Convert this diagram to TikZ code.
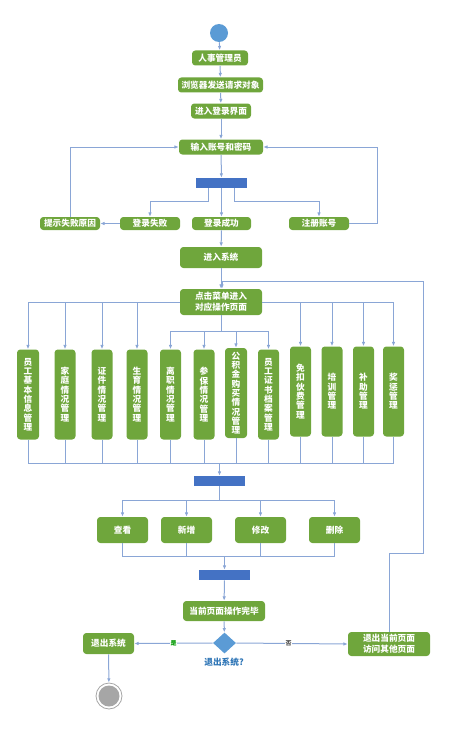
\documentclass[tikz,border=0pt]{standalone}
\usepackage{fontspec}
\setmainfont{Noto Sans CJK SC}
\usetikzlibrary{arrows.meta,calc,shapes.geometric}
\definecolor{boxgreen}{HTML}{6FA63C}
\definecolor{barblue}{HTML}{4472C4}
\definecolor{linec}{HTML}{8AA6D6}
\definecolor{startblue}{HTML}{5B9BD5}
\definecolor{endgray}{HTML}{A6A6A6}
\definecolor{qblue}{HTML}{2E75B6}
\begin{document}
\begin{tikzpicture}[x=0.75pt,y=-0.75pt,
  wh/.style 2 args={minimum width=#1*0.75pt, minimum height=#2*0.75pt},
  gbox/.style={fill=boxgreen, rounded corners=2.5pt, text=white, inner sep=0pt, align=center,
    font=\bfseries\fontsize{6.5}{8}\selectfont},
  vbox/.style={gbox, wh={21}{90}, font=\bfseries\fontsize{6.5}{7}\selectfont},
  bar/.style={fill=barblue, inner sep=0pt, wh={51}{10}},
  conn/.style={draw=linec, line width=0.75pt, -{Latex[length=3.2pt,width=2.6pt]}},
  lin/.style={draw=linec, line width=0.75pt},
  lbl/.style={font=\bfseries\fontsize{4.5}{5}\selectfont, inner sep=0.3pt, fill=white}]
\useasboundingbox (0,0) rectangle (457,735);

% top chain
\node[circle, fill=startblue, inner sep=0pt, minimum size=18*0.75pt] (start) at (219,33) {};
\node[gbox, wh={56}{15}] (n1) at (220,58) {人事管理员};
\node[gbox, wh={85}{15}] (n2) at (220.5,85) {浏览器发送请求对象};
\node[gbox, wh={60}{15}] (n3) at (221,111) {进入登录界面};
\node[gbox, wh={84}{15}] (n4) at (221,147) {输入账号和密码};
\node[bar] (bar1) at (221.5,183) {};
\node[gbox, wh={60}{13}] (f1) at (70,223.5) {提示失败原因};
\node[gbox, wh={60}{13}] (f2) at (150,223.5) {登录失败};
\node[gbox, wh={59}{13}] (f3) at (221.5,223.5) {登录成功};
\node[gbox, wh={60}{13}] (f4) at (319,223.5) {注册账号};
\node[gbox, wh={82}{21}] (sys) at (221,257.5) {进入系统};
\node[gbox, wh={82}{26}] (menu) at (221,302) {点击菜单进入\\对应操作页面};

\draw[conn] (start) -- (n1);
\draw[conn] (n1) -- (n2);
\draw[conn] (n2) -- (n3);
\draw[conn] (n3) -- (n4);
\draw[conn] (n4) -- (bar1);
\draw[conn] ($(bar1.south)+(-13.5,0)$) -- ++(0,13) -| (f2.north);
\draw[conn] (bar1.south) -- (f3.north);
\draw[conn] ($(bar1.south)+(12.5,0)$) -- ++(0,13) -| (f4.north);
\draw[conn] (f2.west) -- (f1.east);
\draw[conn] (f1.north) |- (n4.west);
\draw[conn] (f4.east) -- ++(28,0) |- (n4.east);
\draw[conn] (f3) -- (sys);
\draw[conn] (sys) -- (menu);

% vertical boxes
\node[vbox, wh={22}{90}] (v1) at (28,394.5) {员\\工\\基\\本\\信\\息\\管\\理};
\node[vbox] (v2) at (65,394.5) {家\\庭\\情\\况\\管\\理};
\node[vbox] (v3) at (102,394.5) {证\\件\\情\\况\\管\\理};
\node[vbox] (v4) at (137,394.5) {生\\育\\情\\况\\管\\理};
\node[vbox] (v5) at (170.5,394.5) {离\\职\\情\\况\\管\\理};
\node[vbox] (v6) at (204,394.5) {参\\保\\情\\况\\管\\理};
\node[vbox, wh={22}{90}] (v7) at (236,393) {公\\积\\金\\购\\买\\情\\况\\管\\理};
\node[vbox] (v8) at (268.5,394.5) {员\\工\\证\\书\\档\\案\\管\\理};
\node[vbox] (v9) at (300.5,391.5) {免\\扣\\伙\\费\\管\\理};
\node[vbox] (v10) at (332,391.5) {培\\训\\管\\理};
\node[vbox] (v11) at (363.5,391.5) {补\\助\\管\\理};
\node[vbox] (v12) at (393.5,391.5) {奖\\惩\\管\\理};

\foreach \k in {1,2,3,4} \draw[conn] (menu.west) -| (v\k.north);
\foreach \k in {9,10,11,12} \draw[conn] (menu.east) -| (v\k.north);
\foreach \k in {5,6,7,8} \draw[conn] (menu.south) -- ++(0,16) -| (v\k.north);

\node[bar] (bar2) at (219.5,481) {};
\coordinate (m1) at (219.5,463);
\foreach \k in {1,...,12} \draw[lin] (v\k.south) |- (m1);
\draw[conn] (m1) -- (bar2.north);

% operations
\node[gbox, wh={51}{26}] (o1) at (122.5,530) {查看};
\node[gbox, wh={51}{26}] (o2) at (186.5,530) {新增};
\node[gbox, wh={51}{26}] (o3) at (260.5,530) {修改};
\node[gbox, wh={51}{26}] (o4) at (334.5,530) {删除};
\foreach \k in {1,2,3,4} \draw[conn] (bar2.south) -- ++(0,14) -| (o\k.north);

\node[bar] (bar3) at (224.5,575) {};
\coordinate (m2) at (224.5,556);
\foreach \k in {1,2,3,4} \draw[lin] (o\k.south) |- (m2);
\draw[conn] (m2) -- (bar3.north);

% bottom
\node[gbox, wh={82}{20}] (done) at (224,611) {当前页面操作完毕};
\node[diamond, fill=startblue, inner sep=0pt, minimum width=23*0.75pt, minimum height=21*0.75pt] (dec) at (224.5,643) {};
\node[font=\bfseries\fontsize{6.5}{8}\selectfont, text=qblue, inner sep=0pt] (declbl) at (224,662) {退出系统?};
\node[gbox, wh={51}{21}] (exit) at (108.5,643.5) {退出系统};
\node[gbox, wh={82}{24}] (other) at (389,644) {退出当前页面\\访问其他页面};
\node[circle, draw=endgray, line width=0.6pt, fill=white, inner sep=0pt, minimum size=26*0.75pt] (endo) at (109,696) {};
\node[circle, fill=endgray, inner sep=0pt, minimum size=21*0.75pt] (endi) at (109,696) {};

\draw[conn] (bar3) -- (done);
\draw[conn] (done) -- (dec);
\draw[conn] (dec.west) -- node[lbl, text=green!60!black, pos=0.5] {是} (exit.east);
\draw[conn] (dec.east) -- node[lbl, text=black!70, pos=0.47] {否} (other.west);
\draw[conn] (exit) -- (endo);

% loop back
\coordinate (lp1) at (423,553);
\coordinate (lp2) at (423,281);
\draw[conn] (other.north) |- (lp1) -- (lp2) -| ($(menu.north)+(1,0)$);
\end{tikzpicture}
\end{document}
